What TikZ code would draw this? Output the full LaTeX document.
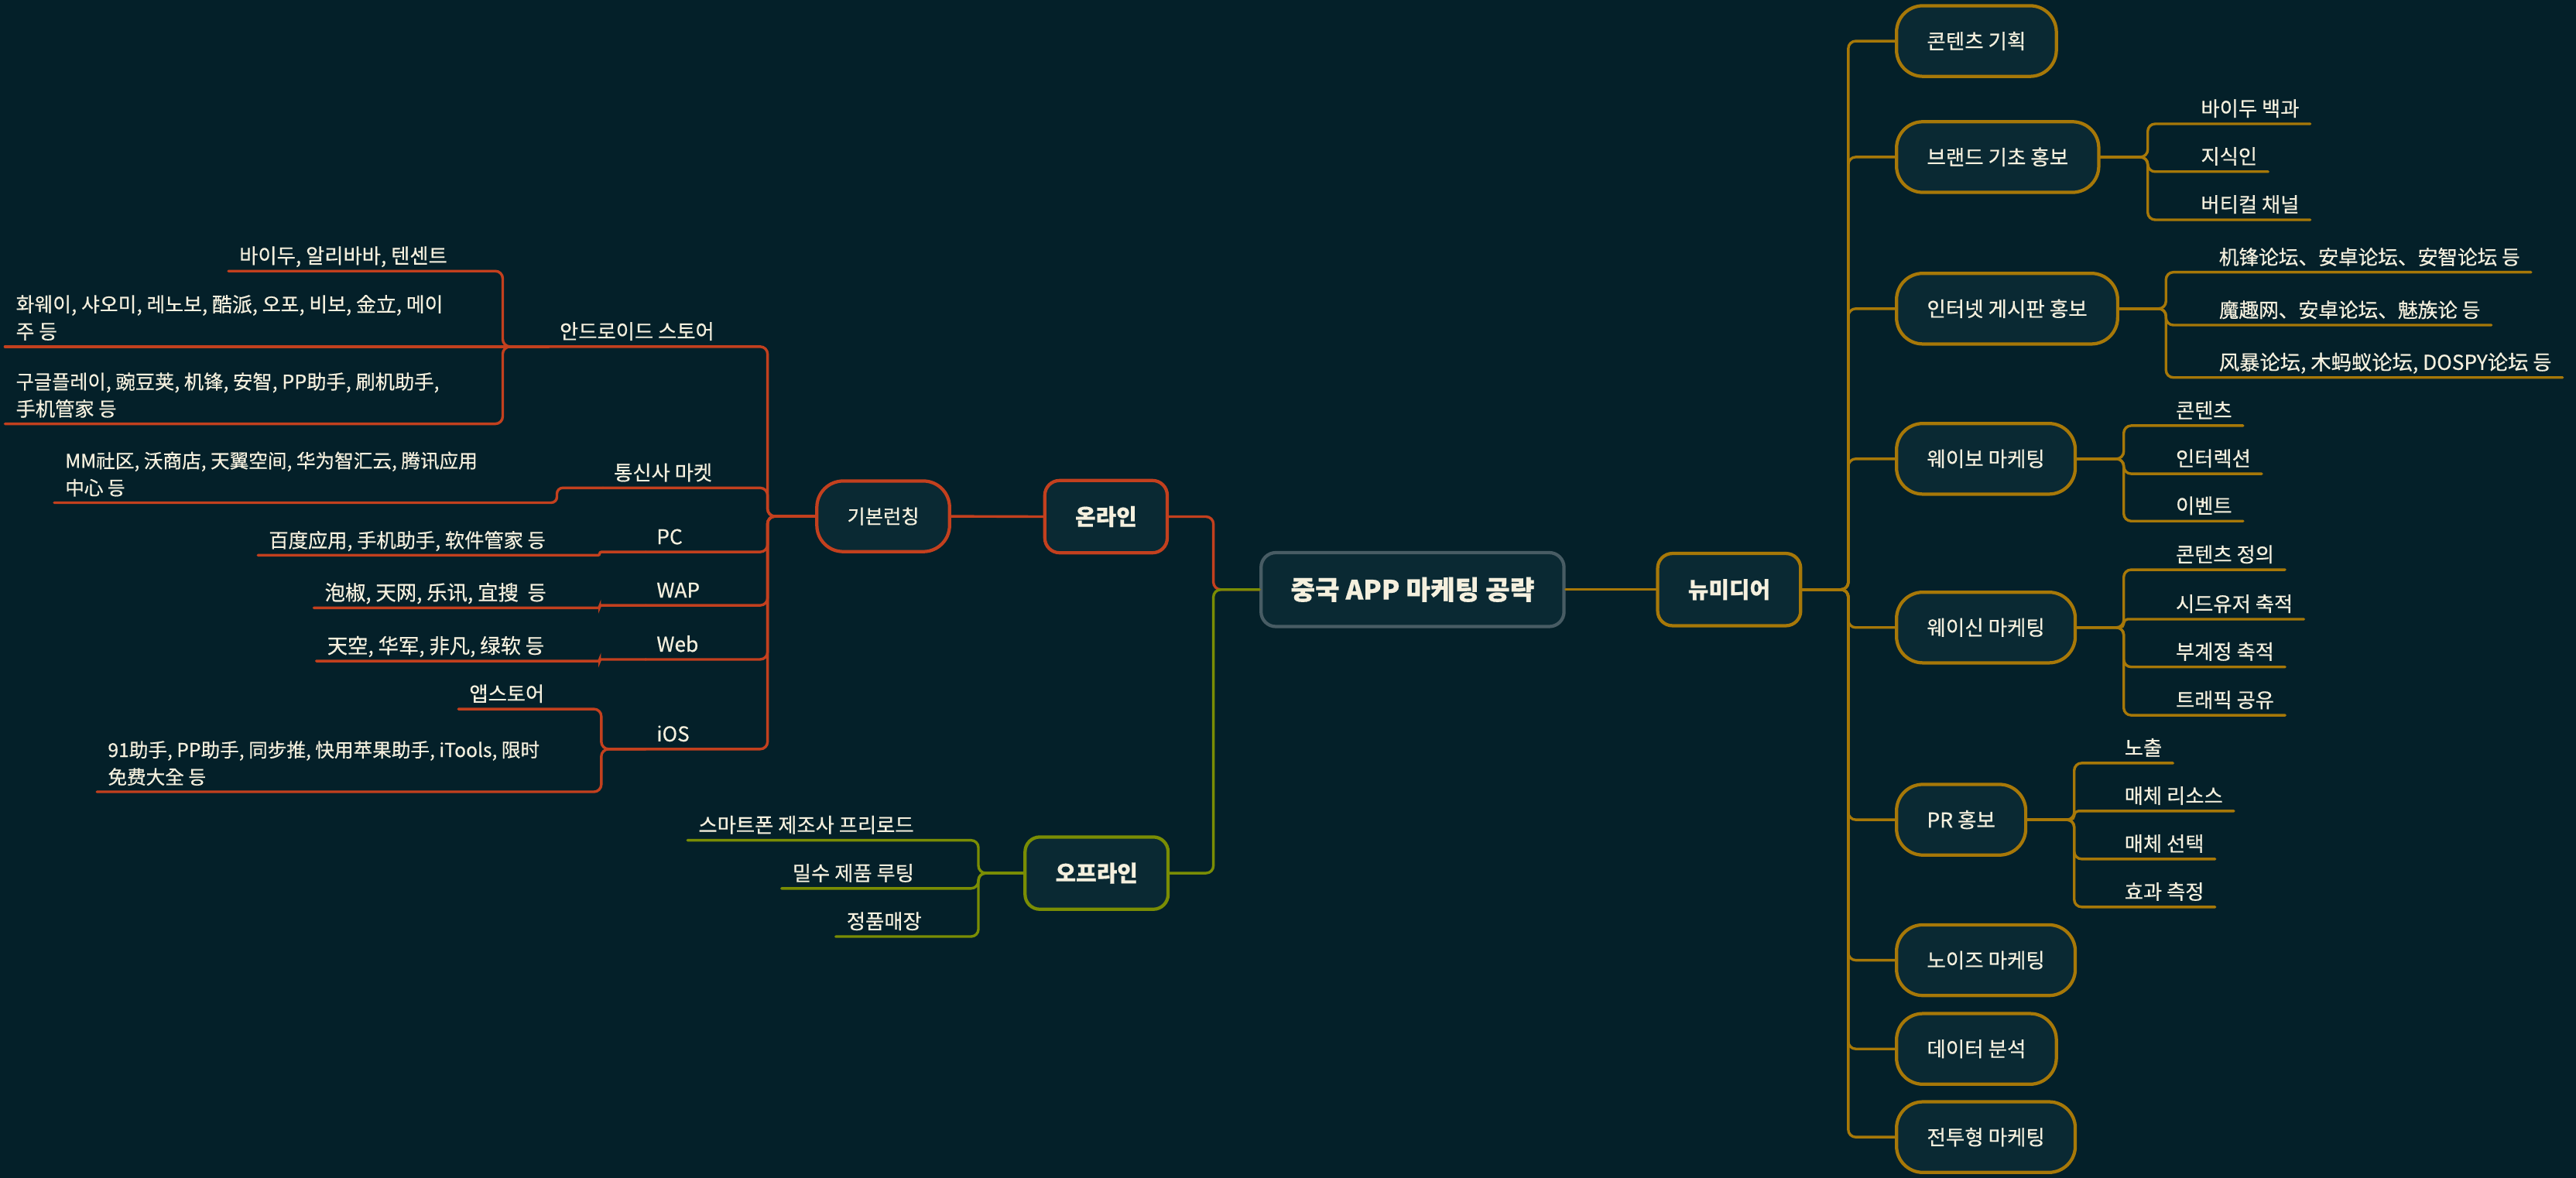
\documentclass[tikz,border=0pt]{standalone}
\usepackage{fontspec}
\setmainfont{Noto Sans CJK KR}[RawFeature={embolden=0.5}]
\definecolor{bg}{RGB}{4,32,41}
\definecolor{nfill}{RGB}{10,41,51}
\definecolor{cred}{RGB}{195,64,30}
\definecolor{cgrn}{RGB}{122,141,4}
\definecolor{cgld}{RGB}{167,120,8}
\definecolor{cgry}{RGB}{72,92,100}
\definecolor{ctxt}{RGB}{245,240,222}
\newcommand{\mlt}[2]{\begin{tabular}[b]{@{}l@{}}#1\\#2\end{tabular}}
\tikzset{
  every node/.style={text=ctxt},
  mainbox/.style={draw, line width=2pt, fill=nfill, rounded corners=9pt, minimum height=44pt, inner xsep=18.5pt, font=\fontsize{13.6}{16}\selectfont\bfseries},
  pill/.style={draw, line width=2pt, fill=nfill, rounded corners=16pt, minimum height=43pt, inner xsep=18.5pt, font=\fontsize{12.5}{15}\selectfont},
  ul/.style={anchor=south west, inner xsep=6.5pt, inner ysep=1.5pt, text depth=3pt, font=\fontsize{12.4}{16.5}\selectfont},
  fs/.style={font=\fontsize{#1}{16.5}\selectfont},
  conn/.style={line width=1.6pt, rounded corners=4.5pt, line cap=round},
}
\begin{document}
\begin{tikzpicture}[x=1pt,y=-1pt]
\fill[bg] (0,0) rectangle (1568,717);
\useasboundingbox (0,0) rectangle (1568,717);

% ---------- central and main topics ----------
\node[mainbox, draw=cgry, font=\fontsize{16.2}{18}\selectfont\bfseries, minimum height=45pt, inner xsep=18pt] (root) at (859.8,358.9) {중국 APP 마케팅 공략};
\node[mainbox, draw=cred, anchor=east] (on) at (711.5,314.5) {온라인};
\node[mainbox, draw=cgrn, anchor=east] (off) at (712,531.5) {오프라인};
\node[mainbox, draw=cgld, anchor=west] (nm) at (1008,358.9) {뉴미디어};
\node[pill, draw=cred, anchor=east, font=\fontsize{11.9}{15}\selectfont] (gb) at (579,314.3) {기본런칭};

% ---------- online (left) ----------
\node[ul] (and) at (334,211) {안드로이드 스토어};
\node[ul] (bd) at (139,165) {바이두, 알리바바, 텐센트};
\node[ul, fs=12.2] (hw) at (3,211) {\mlt{화웨이, 샤오미, 레노보, 酷派, 오포, 비보, 金立, 메이}{주 등}};
\node[ul, fs=11.9] (gg) at (3,258) {\mlt{구글플레이, 豌豆荚, 机锋, 安智, PP助手, 刷机助手,}{手机管家 등}};
\node[ul] (tx) at (367,297) {통신사 마켓};
\node[ul, fs=11.6] (mm) at (33,306) {\mlt{MM社区, 沃商店, 天翼空间, 华为智汇云, 腾讯应用}{中心 등}};
\node[ul] (pc) at (393,336) {PC};
\node[ul, fs=11.9] (bdy) at (157,338) {百度应用, 手机助手, 软件管家 등};
\node[ul] (wap) at (393,368.5) {WAP};
\node[ul] (pj) at (191,370) {泡椒, 天网, 乐讯, 宜搜\ \ 등};
\node[ul] (web) at (393,401.4) {Web};
\node[ul] (tk) at (192.5,402.4) {天空, 华军, 非凡, 绿软 등};
\node[ul] (ios) at (393,456) {iOS};
\node[ul] (app) at (279,431.6) {앱스토어};
\node[ul, fs=11.6] (i91) at (59,482) {\mlt{91助手, PP助手, 同步推, 快用苹果助手, iTools, 限时}{免费大全 등}};

% ---------- offline ----------
\node[ul] (sm) at (418.5,511.5) {스마트폰 제조사 프리로드};
\node[ul] (ms) at (475.7,540.8) {밀수 제품 루팅};
\node[ul] (jp) at (508.7,570.1) {정품매장};

% ---------- new media (right) ----------
\node[pill, draw=cgld, anchor=west] (ct) at (1153.4,25) {콘텐츠 기획};
\node[pill, draw=cgld, anchor=west] (br) at (1153.4,95.6) {브랜드 기초 홍보};
\node[pill, draw=cgld, anchor=west] (ib) at (1153.4,187.9) {인터넷 게시판 홍보};
\node[pill, draw=cgld, anchor=west] (wb) at (1153.4,279.3) {웨이보 마케팅};
\node[pill, draw=cgld, anchor=west] (wx) at (1153.4,382) {웨이신 마케팅};
\node[pill, draw=cgld, anchor=west] (pr) at (1153.4,499) {PR 홍보};
\node[pill, draw=cgld, anchor=west] (nz) at (1153.4,584.5) {노이즈 마케팅};
\node[pill, draw=cgld, anchor=west] (da) at (1153.4,638.5) {데이터 분석};
\node[pill, draw=cgld, anchor=west] (jt) at (1153.4,692.2) {전투형 마케팅};

\node[ul] (bk) at (1333,75.4) {바이두 백과};
\node[ul] (js) at (1333,104.5) {지식인};
\node[ul] (bt) at (1333,133.8) {버티컬 채널};
\node[ul, fs=12.1] (f1) at (1344,165.7) {机锋论坛、安卓论坛、安智论坛 등};
\node[ul, fs=12.1] (f2) at (1344,197.9) {魔趣网、安卓论坛、魅族论 등};
\node[ul] (f3) at (1344,229.8) {风暴论坛, 木蚂蚁论坛, DOSPY论坛 등};
\node[ul] (w1) at (1317.7,259.1) {콘텐츠};
\node[ul] (w2) at (1317.7,288.4) {인터렉션};
\node[ul] (w3) at (1317.7,317.2) {이벤트};
\node[ul] (x1) at (1317.7,346.8) {콘텐츠 정의};
\node[ul] (x2) at (1317.7,376.9) {시드유저 축적};
\node[ul] (x3) at (1317.7,406) {부계정 축적};
\node[ul] (x4) at (1317.7,435.4) {트래픽 공유};
\node[ul] (p1) at (1286.5,464.5) {노출};
\node[ul] (p2) at (1286.5,493.7) {매체 리소스};
\node[ul] (p3) at (1286.5,522.9) {매체 선택};
\node[ul] (p4) at (1286.5,552.1) {효과 측정};

% ---------- connectors: online ----------
\begin{scope}[conn, draw=cred]
\draw (root.west) -- ++(-28,0) |- (on.east);
\draw (on.west) -- (gb.east);
\foreach \c in {and,tx,pc,wap,web,ios} \draw (gb.west) -- ++(-29,0) |- (\c.south west);
\draw (and.south west) -- ++(-28,0) |- (bd.south west);
\draw (and.south west) -- (hw.south west);
\draw (and.south west) -- ++(-28,0) |- (gg.south west);
\draw[rounded corners=3.5pt] (tx.south west) -- ++(-28,0) |- (mm.south west);
\draw[rounded corners=1pt] (pc.south west) -- ++(-28,0) |- (bdy.south west);
\draw[rounded corners=1pt] (wap.south west) -- ++(-28,0) |- (pj.south west);
\draw[rounded corners=1pt] (web.south west) -- ++(-28,0) |- (tk.south west);
\draw (ios.south west) -- ++(-27,0) |- (app.south west);
\draw (ios.south west) -- ++(-27,0) |- (i91.south west);
\end{scope}

% ---------- connectors: offline ----------
\begin{scope}[conn, draw=cgrn]
\draw (root.west) -- ++(-28,0) |- (off.east);
\foreach \c in {sm,ms,jp} \draw (off.west) -- ++(-27.4,0) |- (\c.south west);
\end{scope}

% ---------- connectors: new media ----------
\begin{scope}[conn, draw=cgld]
\draw (root.east) -- (nm.west);
\foreach \c in {ct,br,ib,wb,wx,pr,nz,da,jt} \draw (nm.east) -- ++(28,0) |- (\c.west);
\foreach \c in {bk,js,bt} \draw (br.east) -- ++(28.8,0) |- (\c.south east);
\foreach \c in {f1,f2,f3} \draw (ib.east) -- ++(28.4,0) |- (\c.south east);
\foreach \c in {w1,w2,w3} \draw (wb.east) -- ++(28.5,0) |- (\c.south east);
\foreach \c in {x1,x3,x4} \draw (wx.east) -- ++(28.5,0) |- (\c.south east);
\draw[rounded corners=2.4pt] (wx.east) -- ++(28.5,0) |- (x2.south east);
\foreach \c in {p1,p3,p4} \draw (pr.east) -- ++(28.5,0) |- (\c.south east);
\draw[rounded corners=2.5pt] (pr.east) -- ++(28.5,0) |- (p2.south east);
\end{scope}
\end{tikzpicture}
\end{document}
